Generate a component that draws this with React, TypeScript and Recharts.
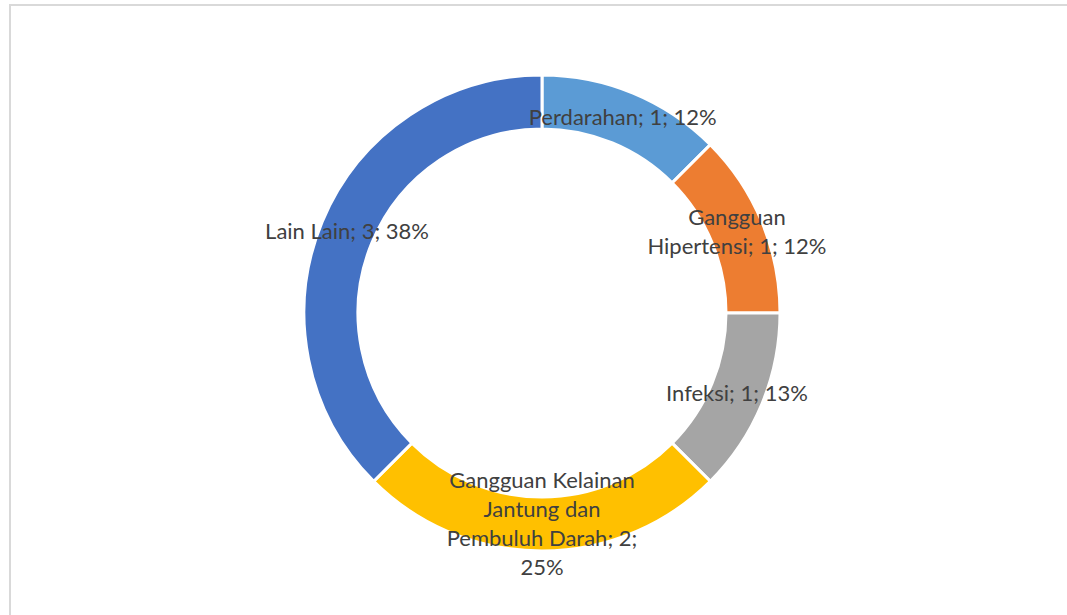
import React from 'react';
import { PieChart, Pie, Cell } from 'recharts';

const categories = [
  'Perdarahan',
  'Gangguan Hipertensi',
  'Infeksi',
  'Gangguan Kelainan Jantung dan Pembuluh Darah',
  'Lain Lain',
];
const values = [1, 1, 1, 2, 3];
// percentages as Excel printed them (rounded so they sum to 100)
const percentLabels = [12, 12, 13, 25, 38];
const colors = ['#5B9BD5', '#ED7D31', '#A5A5A5', '#FFC000', '#4472C4'];

const W = 1067;
const H = 615;
const FONT = '22px Lato';
const LINE_H = 29;
const WRAP_W = 200;

const chartData = categories.map((name, i) => ({ name, value: values[i] }));

let ctx: CanvasRenderingContext2D | null = null;
const measure = (s: string) => {
  if (!ctx) {
    ctx = document.createElement('canvas').getContext('2d');
    if (ctx) ctx.font = FONT;
  }
  return ctx ? ctx.measureText(s).width : s.length * 10.5;
};

// greedy word wrap, roughly like Excel does for data labels
const wrap = (text: string) => {
  const words = text.split(' ');
  const lines: string[] = [];
  let cur = '';
  words.forEach((w) => {
    const next = cur ? cur + ' ' + w : w;
    if (cur && measure(next) > WRAP_W) {
      lines.push(cur);
      cur = w;
    } else {
      cur = next;
    }
  });
  if (cur) lines.push(cur);
  return lines;
};

const RADIAN = Math.PI / 180;

const renderLabel = (props: any) => {
  const { cx, cy, midAngle, innerRadius, outerRadius, index } = props;
  const r = (innerRadius + outerRadius) / 2;
  const x = cx + r * Math.cos(-midAngle * RADIAN);
  const y = cy + r * Math.sin(-midAngle * RADIAN) - 2;
  const text = `${categories[index]}; ${values[index]}; ${percentLabels[index]}%`;
  const lines = wrap(text);
  const y0 = y - ((lines.length - 1) * LINE_H) / 2;
  return (
    <text
      x={x}
      y={y0}
      textAnchor="middle"
      dominantBaseline="central"
      fill="#404040"
      style={{ font: FONT }}
    >
      {lines.map((l, i) => (
        <tspan key={i} x={x} y={y0 + i * LINE_H} dominantBaseline="central">
          {l}
        </tspan>
      ))}
    </text>
  );
};

export default function App() {
  return (
    <div
      style={{
        position: 'fixed',
        left: 0,
        top: 0,
        width: W,
        height: H,
        overflow: 'hidden',
        background: '#fff',
      }}
    >
      <div
        style={{
          position: 'absolute',
          left: 9,
          top: 4,
          width: 1200,
          height: 800,
          border: '2px solid #d9d9d9',
          boxSizing: 'border-box',
        }}
      />
      <div style={{ position: 'absolute', left: 0, top: 0 }}>
        <PieChart width={W} height={H} margin={{ top: 0, right: 0, bottom: 0, left: 0 }}>
          <Pie
            data={chartData}
            dataKey="value"
            nameKey="name"
            cx={542}
            cy={313}
            innerRadius={184}
            outerRadius={238}
            startAngle={90}
            endAngle={-270}
            stroke="#ffffff"
            strokeWidth={3}
            label={renderLabel}
            labelLine={false}
            isAnimationActive={false}
          >
            {chartData.map((d, i) => (
              <Cell key={d.name} fill={colors[i]} />
            ))}
          </Pie>
        </PieChart>
      </div>
    </div>
  );
}
